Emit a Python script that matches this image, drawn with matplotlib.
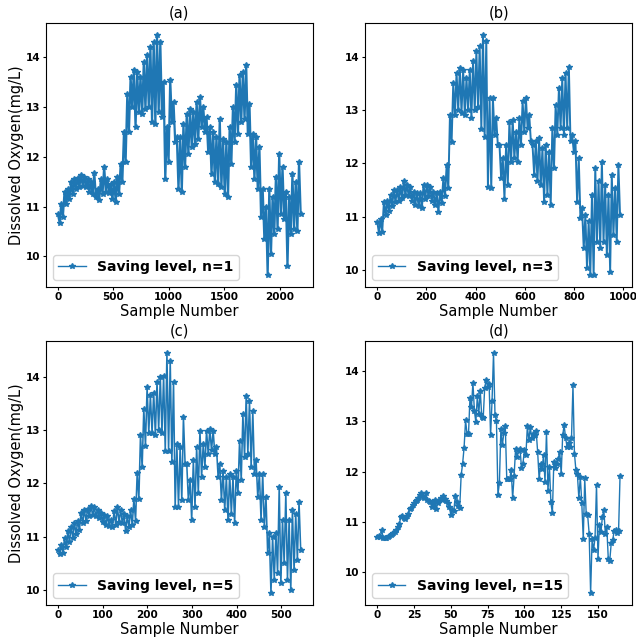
import numpy as np
import matplotlib
matplotlib.use("Agg")
import matplotlib.pyplot as plt

# (a) n=1: upper / lower envelope of the dense trace, read every ~30 samples
a_hi = [10.85, 11.05, 11.30, 11.35, 11.50, 11.55, 11.58, 11.63, 11.60, 11.55,
        11.50, 11.68, 11.35, 11.55, 11.80, 11.55, 11.45, 11.50, 11.60, 11.85,
        12.50, 13.25, 13.60, 13.75, 13.70, 13.60, 13.90, 14.05, 14.20, 14.30,
        14.45, 14.30, 13.50, 12.60, 13.55, 13.10, 12.40, 12.40, 12.65, 12.85,
        12.95, 12.90, 13.10, 13.20, 13.00, 12.80, 12.60, 12.50, 12.40, 12.75,
        12.35, 12.30, 12.60, 13.00, 13.45, 13.65, 13.70, 13.85, 13.05, 12.45,
        12.40, 12.20, 11.35, 11.00, 11.35, 11.20, 11.60, 12.05, 11.80, 11.30,
        11.20, 11.65, 11.50, 11.90]
a_lo = [10.68, 10.80, 11.05, 11.15, 11.25, 11.35, 11.40, 11.42, 11.40, 11.30,
        11.25, 11.20, 11.13, 11.25, 11.30, 11.28, 11.15, 11.10, 11.25, 11.50,
        11.90, 12.50, 13.00, 12.60, 12.90, 12.85, 12.95, 13.00, 12.70, 12.65,
        12.90, 12.80, 11.55, 11.90, 12.70, 12.30, 11.35, 11.30, 11.80, 12.05,
        12.20, 12.25, 12.35, 12.60, 12.50, 12.10, 11.65, 11.50, 11.45, 11.40,
        11.25, 11.20, 11.85, 12.30, 12.45, 12.70, 12.75, 12.45, 11.80, 11.55,
        11.35, 10.80, 10.35, 9.63, 10.05, 10.45, 10.55, 10.85, 10.75, 9.80,
        10.45, 10.55, 10.50, 10.85]
a_last = 2190

# (b) n=3
b_hi = [10.90, 10.95, 11.28, 11.30, 11.40, 11.50, 11.50, 11.55, 11.66, 11.60,
        11.55, 11.47, 11.45, 11.44, 11.60, 11.60, 11.56, 11.47, 11.44, 11.47,
        11.72, 11.97, 12.90, 13.50, 13.70, 13.78, 13.75, 13.60, 13.75, 13.91,
        14.10, 14.20, 14.41, 14.30,
        13.22, 13.22, 12.84, 12.34, 12.09, 12.34, 12.78, 12.81, 12.59, 12.84,
        13.16, 13.22, 12.91, 12.34, 12.41, 12.47, 12.28, 12.34, 12.22, 12.66,
        13.09, 13.41, 13.59, 13.69, 13.81, 12.53, 12.41, 12.09, 11.16, 11.03,
        10.91, 11.41, 11.91, 11.66, 12.03, 11.59, 11.41, 11.78, 11.53, 11.97]
b_lo = [10.69, 10.72, 11.03, 11.10, 11.20, 11.28, 11.30, 11.35, 11.41, 11.38,
        11.30, 11.22, 11.20, 11.16, 11.34, 11.38, 11.30, 11.22, 11.09, 11.25,
        11.38, 11.53, 12.40, 12.90, 13.00, 12.95, 12.91, 13.00, 12.85, 13.00,
        13.05, 12.65, 12.50, 11.55,
        11.53, 12.53, 12.34, 11.72, 11.34, 11.59, 12.03, 12.09, 12.03, 12.34,
        12.59, 12.66, 12.41, 11.78, 11.66, 11.59, 11.28, 11.41, 11.22, 11.91,
        12.53, 12.66, 12.53, 12.66, 12.41, 12.22, 11.28, 10.97, 10.41, 10.03,
        9.91, 9.91, 10.53, 10.41, 10.53, 10.28, 9.97, 10.66, 10.53, 11.03]
b_last = 987

# (c) n=5
c_hi = [10.75, 10.85, 10.97, 11.10, 11.18, 11.25, 11.30, 11.45, 11.50, 11.52,
        11.58, 11.55, 11.50, 11.45, 11.40, 11.38, 11.32, 11.48, 11.55, 11.50,
        11.42, 11.38, 11.50, 11.70, 12.20, 12.90, 13.40, 13.80, 13.65, 13.70,
        13.90, 14.00, 14.02, 14.45, 14.30, 13.90,
        12.74, 12.68, 13.24, 12.37, 12.06, 12.43, 12.68, 12.99, 12.74, 12.99,
        13.02, 12.99, 12.68, 12.37, 12.24, 12.12, 12.18, 12.12, 12.24, 12.80,
        13.30, 13.64, 13.55, 13.36, 12.43, 12.18, 12.18, 11.74, 11.06, 11.00,
        11.06, 11.93, 11.31, 11.81, 11.31, 11.50, 11.43, 11.65]
c_lo = [10.68, 10.70, 10.80, 10.90, 10.98, 11.05, 11.12, 11.25, 11.30, 11.38,
        11.40, 11.38, 11.35, 11.28, 11.22, 11.20, 11.18, 11.22, 11.28, 11.25,
        11.10, 11.18, 11.22, 11.30, 11.70, 12.30, 12.70, 12.95, 12.95, 12.90,
        13.00, 12.95, 12.60, 12.60, 12.40, 11.55,
        11.56, 11.68, 12.37, 11.68, 11.31, 11.56, 11.81, 12.12, 12.31, 12.55,
        12.62, 12.55, 12.12, 11.68, 11.50, 11.31, 11.43, 11.25, 11.81, 12.06,
        12.49, 12.55, 12.31, 12.18, 11.74, 11.31, 11.18, 10.69, 9.94, 10.19,
        10.31, 10.12, 10.50, 10.19, 10.00, 10.37, 10.56, 10.75]
c_last = 543

# (d) n=15: every point
d_vals = [10.71, 10.72, 10.70, 10.84, 10.69, 10.69, 10.68, 10.70, 10.72, 10.75,
          10.76, 10.78, 10.80, 10.85, 10.91, 10.97, 11.10, 11.11, 11.08, 11.05,
          11.12, 11.16, 11.26, 11.28, 11.33, 11.37, 11.41, 11.44, 11.47, 11.54,
          11.57, 11.50, 11.47, 11.57, 11.44, 11.41, 11.39, 11.30, 11.36,
          11.44, 11.25, 11.38, 11.44, 11.48, 11.44, 11.51, 11.45, 11.41, 11.38,
          11.30, 11.14, 11.24, 11.22, 11.51, 11.40, 11.31, 11.28,
          11.93, 12.16, 12.48, 13.02, 12.75, 12.75, 13.47, 13.28, 13.77, 13.21,
          12.98, 13.51, 13.15, 13.61, 13.09, 13.07, 13.67, 13.82, 13.69, 13.74,
          12.72, 13.41, 14.36,
          13.13, 13.00, 11.54, 11.78, 12.85, 12.52, 12.77, 12.91, 11.85, 11.85,
          11.85, 12.03, 11.47, 11.92, 12.46, 12.30, 12.41, 12.46, 12.08, 12.16,
          12.43, 12.33, 12.90, 12.62, 12.88, 12.67, 12.75, 12.72, 12.80, 12.39,
          11.85, 12.15, 12.05, 12.33, 11.80, 12.79, 11.62, 12.10, 11.39, 11.17,
          12.20, 12.08, 12.15, 12.26, 12.40, 11.95, 12.72, 12.92, 12.67, 12.49,
          12.57, 12.49, 12.67, 13.72, 12.36, 12.03, 11.95, 11.47, 11.90, 11.37,
          10.66, 11.87, 11.16, 11.13, 10.77, 9.59, 10.66, 10.44, 10.69, 11.74,
          10.27, 10.95, 10.80, 11.10, 11.23, 10.77, 10.90, 10.27, 10.23, 10.58,
          10.64, 10.82, 10.85, 10.79, 10.82, 11.92]

titles = ["(a)", "(b)", "(c)", "(d)"]
levels = [1, 3, 5, 15]
# denser panels need a heavier stroke to read as the solid band of the original
widths = [1.6, 1.4, 1.15, 1.0]


def zigzag(hi, lo, last):
    y = np.column_stack([hi, lo]).ravel()
    x = np.linspace(0, last, len(y))
    return x, y


series = [
    zigzag(a_hi, a_lo, a_last),
    zigzag(b_hi, b_lo, b_last),
    zigzag(c_hi, c_lo, c_last),
    (np.arange(len(d_vals)), np.array(d_vals)),
]

plt.rcParams.update({
    "font.weight": "bold",
    "xtick.major.size": 2.3,
    "ytick.major.size": 2.3,
    "xtick.major.pad": 1.6,
    "ytick.major.pad": 1.6,
    "axes.titlepad": 3.8,
    "axes.labelpad": 1.2,
})

fig, axes = plt.subplots(2, 2, figsize=(6.36, 6.39), dpi=100)
fig.subplots_adjust(left=0.072, right=0.994, top=0.9645, bottom=0.0532,
                    wspace=0.196, hspace=0.2045)

for ax, (x, y), title, n, lw in zip(axes.flat, series, titles, levels, widths):
    ax.plot(x, y, color="#1f77b4", marker="*", markersize=4, linewidth=lw,
            label=f"Saving level, n={n}")
    ax.set_title(title, fontsize=10.5, fontweight="normal")
    ax.set_xlabel("Sample Number", fontsize=10.5, fontweight="normal")
    ax.set_yticks([10, 11, 12, 13, 14])
    ax.tick_params(labelsize=7.5)
    leg = ax.legend(loc="lower left", prop={"weight": "bold", "size": 10})
    for handle in leg.get_lines():
        handle.set_linewidth(1.0)

for ax in axes[:, 0]:
    ax.set_ylabel("Dissolved Oxygen(mg/L)", fontsize=10.5, fontweight="normal")

fig.savefig("out.png", dpi=100)
